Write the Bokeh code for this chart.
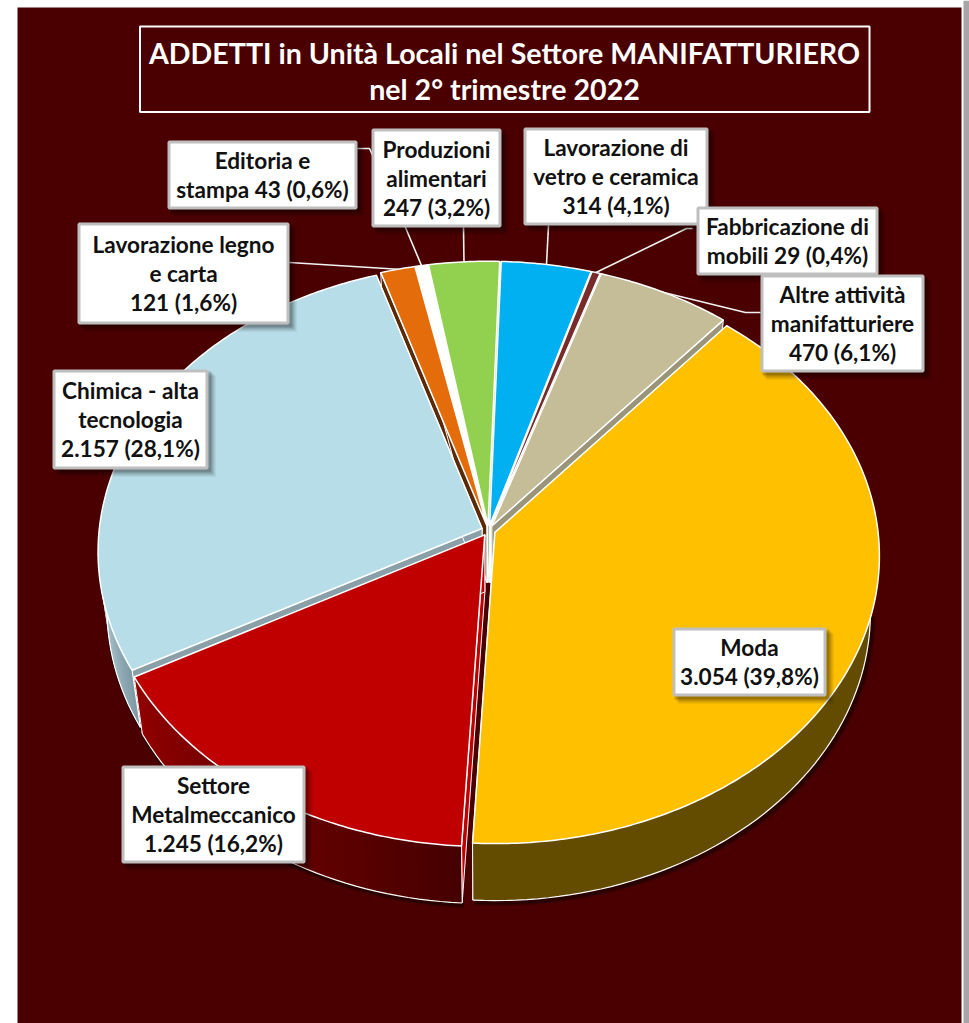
import math
from bokeh.plotting import figure
from bokeh.embed import file_html
from bokeh.resources import INLINE
from bokeh.core.properties import value

# ---- data ----
categories = ["Moda", "Settore Metalmeccanico", "Chimica - alta tecnologia", "Lavorazione legno e carta",
              "Editoria e stampa", "Produzioni alimentari", "Lavorazione di vetro e ceramica",
              "Fabbricazione di mobili", "Altre attività manifatturiere"]
addetti = [3054, 1245, 2157, 121, 43, 247, 314, 29, 470]
quote = ["39,8", "16,2", "28,1", "1,6", "0,6", "3,2", "4,1", "0,4", "6,1"]
label_templates = [
    ["Moda", "{v}"],
    ["Settore", "Metalmeccanico", "{v}"],
    ["Chimica - alta", "tecnologia", "{v}"],
    ["Lavorazione legno", "e carta", "{v}"],
    ["Editoria e", "stampa {v}"],
    ["Produzioni", "alimentari", "{v}"],
    ["Lavorazione di", "vetro e ceramica", "{v}"],
    ["Fabbricazione di", "mobili {v}"],
    ["Altre attività", "manifatturiere", "{v}"],
]
title_lines = ["ADDETTI in Unità Locali nel Settore MANIFATTURIERO", "nel 2° trimestre 2022"]

# ---- styles ----
top_colors = ["#FFC000", "#C00000", "#B7DEE8", "#E46C0A", "#FFFFFF", "#92D050", "#00B0F0", "#772C2A", "#C4BD97"]
wall_from = ["#634b00", "#470000", "#7f9ba6", "#8a4106", "#dddddd", "#587d30", "#006a90", "#481a19", "#9a957a"]
wall_to = ["#634b00", "#900000", "#c2dae2", "#8a4106", "#dddddd", "#587d30", "#006a90", "#481a19", "#9a957a"]
cut_colors = ["#634b00", "#c00000", "#8aa0a8", "#5b2a05", "#ffffff", "#587d30", "#006a90", "#481a19", "#9a957a"]
BG = "#4A0000"

# ---- layout (page pixels) ----
FIG_W, FIG_H = 969, 1023
CX, CY, RX, RY, K = 488.0, 530.0, 383.0, 286.0, 0.08
EXPLODE, DEPTH, START_DEG, TAPER = 0.018, 57.0, 40.0, 0.977
# label boxes: left, right, top, bottom
boxes = [(672, 826, 627, 696), (121, 305, 765, 863), (52, 208, 369, 469), (77, 289, 222, 324),
         (167, 357, 140, 209), (371, 501, 128, 227), (523, 708, 127, 225), (696, 878, 206, 275), (760, 924, 274, 372)]
# leader lines: waypoints from the box towards the slice rim
leaders = {3: [(289, 262)], 4: [(357, 148), (369, 148), (405, 227)], 5: [(463, 227)], 6: [(548, 225)],
           7: [(692, 228), (686, 228)], 8: [(760, 312), (745, 312)]}

p = figure(width=FIG_W, height=FIG_H, x_range=(0, FIG_W), y_range=(FIG_H, 0),
           output_backend="svg", toolbar_location=None, min_border=0, background_fill_color="white",
           border_fill_color="white", outline_line_color=None)
p.axis.visible = False
p.grid.visible = False

# page frame
p.quad(left=[963], right=[969], top=[0], bottom=[1030], fill_color="#a6a6a6", line_color=None)
p.quad(left=[17], right=[961], top=[7], bottom=[1030], fill_color=BG, line_color=None)


def proj(x, y):
    w = 1 + K * y
    return CX + RX * x / w, CY - RY * y / w


def low(q):
    return CX + (q[0] - CX) * TAPER, q[1] + DEPTH


def mix(a, b, t):
    ca = [int(a[i:i + 2], 16) for i in (1, 3, 5)]
    cb = [int(b[i:i + 2], 16) for i in (1, 3, 5)]
    return "#%02x%02x%02x" % tuple(round(u + (v - u) * t) for u, v in zip(ca, cb))


total = sum(addetti)
slices = []
a = START_DEG
for i, v in enumerate(addetti):
    sweep = 360.0 * v / total
    slices.append((i, a, a + sweep))
    a += sweep


def rim(i, a0, a1, n, c0=None, c1=None):
    mid = math.radians((c0 if c0 is not None else a0) / 2 + (c1 if c1 is not None else a1) / 2)
    ox, oy = EXPLODE * math.sin(mid), EXPLODE * math.cos(mid)
    pts = []
    for j in range(n + 1):
        t = math.radians(a0 + (a1 - a0) * j / n)
        pts.append(proj(ox + math.sin(t), oy + math.cos(t)))
    return proj(ox, oy), pts


# soft shadow under the front rim
for off, lw, al in ((2, 7, 0.18), (2, 4, 0.3)):
    for i, a0, a1 in slices:
        lo, hi = max(a0, 95), min(a1, 262)
        if hi > lo:
            _, pts = rim(i, lo, hi, 60, a0, a1)
            low_pts = [low(q) for q in pts]
            p.line([q[0] + off for q in low_pts], [q[1] + off for q in low_pts], line_color="black",
                   line_width=lw, line_alpha=al)

order = sorted(slices, key=lambda s: -math.cos(math.radians((s[1] + s[2]) / 2)))
for i, a0, a1 in order:
    apex, pts = rim(i, a0, a1, max(8, int((a1 - a0) * 1.5)))
    # cut faces
    for q in (pts[0], pts[-1]):
        lq, la = low(q), low(apex)
        p.patch([apex[0], q[0], lq[0], la[0]], [apex[1], q[1], lq[1], la[1]],
                fill_color=cut_colors[i], line_color="white", line_width=1)
    # outer wall, gradient painted as overlapping bands
    l2, h2 = max(a0, 95), min(a1, 265)
    if h2 > l2:
        n = max(2, int((h2 - l2) / 1.5))
        _, seg = rim(i, l2, h2, n, a0, a1)
        steps = 1 if wall_from[i] == wall_to[i] else n
        for j in range(steps):
            col = mix(wall_from[i], wall_to[i], j / max(1, steps - 1))
            part = seg[j:]
            lowp = [low(q) for q in part][::-1]
            p.patch([q[0] for q in part + lowp], [q[1] for q in part + lowp],
                    fill_color=col, line_color=None)
        lowseg = [low(q) for q in seg]
        p.line([q[0] for q in lowseg], [q[1] for q in lowseg], line_color="white", line_width=1.2)
        for q, lq in ((seg[0], lowseg[0]), (seg[-1], lowseg[-1])):
            p.line([q[0], lq[0]], [q[1], lq[1]], line_color="white", line_width=1)
    # top face
    p.patch([apex[0]] + [q[0] for q in pts], [apex[1]] + [q[1] for q in pts],
            fill_color=top_colors[i], line_color="white", line_width=1.5, line_join="round")

# leader lines end on the rim at each slice's middle
for i, way in leaders.items():
    a0, a1 = slices[i][1], slices[i][2]
    _, pts = rim(i, a0, a1, 2)
    end = pts[1]
    p.line([q[0] for q in way] + [end[0]], [q[1] for q in way] + [end[1]], line_color="#f2f2f2", line_width=1.6)

# title
p.quad(left=[139.5], right=[869], top=[26], bottom=[111.5], fill_color=None, line_color="white", line_width=2)
p.text(x=[504, 504], y=[52, 88], text=title_lines, text_color="white", text_align="center", text_baseline="middle",
       text_font=value("Lato"), text_font_style="bold", text_font_size="28.6px")

# label boxes
for i, (l, r, t, b) in enumerate(boxes):
    for off, al in ((7, 0.10), (5, 0.14), (3, 0.2)):
        p.quad(left=[l + off - 1], right=[r + off], top=[t + off - 1], bottom=[b + off], fill_color="black",
               fill_alpha=al, line_color=None)
for i, (l, r, t, b) in enumerate(boxes):
    p.quad(left=[l + 1.5], right=[r - 1.5], top=[t + 1.5], bottom=[b - 1.5], fill_color="white",
           line_color="#bfbfbf", line_width=3)
    v = f"{addetti[i]:,}".replace(",", ".") + f" ({quote[i]}%)"
    lines = [s.format(v=v) for s in label_templates[i]]
    pitch = 29.0
    cy = (t + b) / 2
    ys = [cy + (j - (len(lines) - 1) / 2) * pitch for j in range(len(lines))]
    p.text(x=[(l + r) / 2] * len(lines), y=ys, text=lines, text_color="#111111", text_align="center",
           text_baseline="middle", text_font=value("Lato"), text_font_style="bold", text_font_size="22.6px")

open("out.html", "w").write(file_html(p, INLINE))
